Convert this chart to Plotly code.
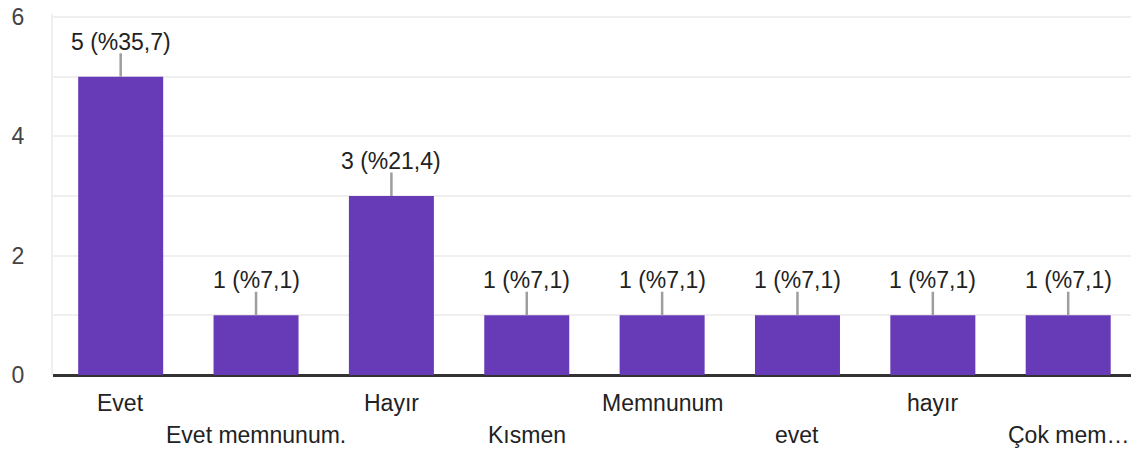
import plotly.graph_objects as go

categories = ["Evet", "Evet memnunum.", "Hayır", "Kısmen", "Memnunum", "evet", "hayır", "Çok mem…"]
counts = [5, 1, 3, 1, 1, 1, 1, 1]
y_tick_values = [0, 1, 2, 3, 4, 5, 6]
y_tick_labels = ["0", "", "2", "", "4", "", "6"]

total = sum(counts)
value_labels = [f"{c} (%{100 * c / total:.1f})".replace(".", ",") for c in counts]
xs = list(range(len(categories)))

BAR = "#673AB7"
FONT = "Liberation Sans, Arial, sans-serif"
FS = 23

fig = go.Figure()
fig.add_trace(go.Bar(x=xs, y=counts, marker=dict(color=BAR, line=dict(width=0)),
                     width=0.628, hoverinfo="skip"))

annotations = []
for x, c, lab in zip(xs, counts, value_labels):
    # connector line
    annotations.append(dict(x=x, y=c, xref="x", yref="y", text="", showarrow=True,
                            arrowhead=0, arrowwidth=2.5, arrowcolor="#9e9e9e",
                            ax=0, ay=-24, borderpad=0))
    # value label
    annotations.append(dict(x=x, y=c, xref="x", yref="y", text=lab, showarrow=False,
                            yanchor="middle", yshift=35,
                            font=dict(family=FONT, size=FS, color="#222")))
for i, cat in enumerate(categories):
    annotations.append(dict(x=i, y=0, xref="x", yref="paper", text=cat, showarrow=False,
                            yanchor="middle", yshift=-28 if i % 2 == 0 else -60,
                            font=dict(family=FONT, size=FS, color="#222")))

fig.update_layout(
    width=1131, height=454,
    margin=dict(l=53, r=0, t=14, b=79, autoexpand=False),
    paper_bgcolor="white", plot_bgcolor="white",
    showlegend=False,
    annotations=annotations,
    xaxis=dict(range=[-0.5, 7.464], showticklabels=False, showgrid=False,
               zeroline=False, showline=False, fixedrange=True),
    yaxis=dict(range=[0, 6.05], tickvals=y_tick_values, ticktext=y_tick_labels,
               showgrid=True, gridcolor="#efefef", gridwidth=2,
               zeroline=True, zerolinecolor="#333", zerolinewidth=3,
               showline=True, linecolor="#efefef", linewidth=2,
               ticks="outside", ticklen=22, tickcolor="rgba(0,0,0,0)",
               ticklabeloverflow="allow",
               tickfont=dict(family=FONT, size=FS, color="#444"), fixedrange=True),
)

fig.write_html(
    "out.html",
    config={"displayModeBar": False},
    post_script="document.body.style.margin='0';document.documentElement.style.overflow='hidden';",
)
